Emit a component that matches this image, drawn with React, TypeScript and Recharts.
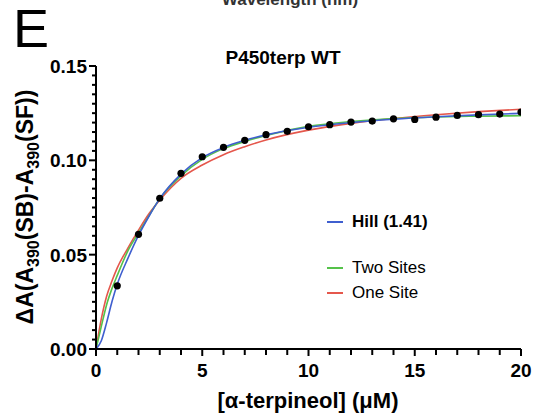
import React from 'react';
import { ComposedChart, Line, Scatter, XAxis, YAxis } from 'recharts';

// measured points
const concentrations = [1, 2, 3, 4, 5, 6, 7, 8, 9, 10, 11, 12, 13, 14, 15, 16, 17, 18, 19, 20];
const deltaA = [
  0.0335, 0.0608, 0.0799, 0.0931, 0.1019, 0.1069, 0.1106, 0.1136, 0.1154, 0.1178,
  0.1189, 0.1203, 0.1208, 0.1220, 0.1217, 0.1229, 0.1238, 0.1242, 0.1245, 0.1256,
];

// fitted curves
const fitX = [0, 0.25, 0.5, 0.75, 1, 1.5, 2, 2.5, 3, 4, 5, 6, 7, 8, 10, 12, 14, 16, 18, 20];
const hillFit = [
  0, 0.0044, 0.014, 0.025, 0.0343, 0.048, 0.0602, 0.0705, 0.0797, 0.0927, 0.1014, 0.1068,
  0.1106, 0.1135, 0.1175, 0.1200, 0.1218, 0.1231, 0.1241, 0.1249,
];
const twoSitesFit = [
  0, 0.012, 0.0235, 0.032, 0.039, 0.052, 0.0615, 0.0707, 0.0797, 0.0918, 0.1005, 0.1062,
  0.1100, 0.1132, 0.1180, 0.1206, 0.1222, 0.1230, 0.1234, 0.1236,
];
const oneSiteFit = [
  0, 0.016, 0.028, 0.036, 0.043, 0.0535, 0.0630, 0.0718, 0.0790, 0.0905, 0.0975, 0.1030,
  0.1072, 0.1108, 0.1160, 0.1196, 0.1222, 0.1242, 0.1258, 0.1271,
];

const xTicks = [0, 1, 2, 3, 4, 5, 6, 7, 8, 9, 10, 11, 12, 13, 14, 15, 16, 17, 18, 19, 20];
const yMajorTicks = [0, 0.05, 0.1, 0.15];
const yMinorStep = 0.005;

const BLUE = '#3f5fcf';
const GREEN = '#55c24a';
const RED = '#e5574c';
const FONT = '"Liberation Sans", Arial, Helvetica, sans-serif';

const toRows = (xs: number[], ys: number[]) => xs.map((x, i) => ({ x, y: ys[i] }));

const pointRows = toRows(concentrations, deltaA);
const hillRows = toRows(fitX, hillFit);
const twoRows = toRows(fitX, twoSitesFit);
const oneRows = toRows(fitX, oneSiteFit);

const yTicks = Array.from({ length: Math.round(0.15 / yMinorStep) + 1 }, (_, i) => +(i * yMinorStep).toFixed(3));

const XTick = (props: any) => {
  const { x, y, payload } = props;
  const major = payload.value % 5 === 0;
  return (
    <g>
      <line x1={x} x2={x} y1={y} y2={y + (major ? 7 : 6)} stroke="#000" strokeWidth={2} />
      {major && (
        <text x={x} y={y + 28} textAnchor="middle" fontFamily={FONT} fontWeight="bold" fontSize={19} fill="#000">
          {payload.value}
        </text>
      )}
    </g>
  );
};

const YTick = (props: any) => {
  const { x, y, payload } = props;
  const major = yMajorTicks.some(t => Math.abs(t - payload.value) < 1e-6);
  return (
    <g>
      <line x1={x - (major ? 7 : 4)} x2={x} y1={y} y2={y} stroke="#000" strokeWidth={2} />
      {major && (
        <text x={x - 9} y={y + 7} textAnchor="end" fontFamily={FONT} fontWeight="bold" fontSize={19} fill="#000">
          {payload.value.toFixed(2)}
        </text>
      )}
    </g>
  );
};

const Dot = (props: any) => {
  const { cx, cy } = props;
  return <circle cx={cx} cy={cy} r={3.6} fill="#000" />;
};

const App = () => {
  return (
    <div style={{ position: 'absolute', left: 0, top: 0, width: 534, height: 416, background: '#fff' }}>
      <ComposedChart width={534} height={416} margin={{ top: 66, right: 13, bottom: 27, left: 36 }}>
        <XAxis
          dataKey="x"
          type="number"
          domain={[0, 20]}
          ticks={xTicks}
          interval={0}
          tickSize={0}
          tickMargin={0}
          tickLine={false}
          tick={<XTick />}
          height={40}
          axisLine={{ stroke: '#000', strokeWidth: 2 }}
          allowDataOverflow
        />
        <YAxis
          dataKey="y"
          type="number"
          domain={[0, 0.15]}
          ticks={yTicks}
          interval={0}
          tickSize={0}
          tickMargin={0}
          tickLine={false}
          tick={<YTick />}
          width={60}
          axisLine={{ stroke: '#000', strokeWidth: 2 }}
          allowDataOverflow
        />
        <Line data={oneRows} dataKey="y" type="monotone" stroke={RED} strokeWidth={1.6} dot={false} isAnimationActive={false} />
        <Line data={twoRows} dataKey="y" type="monotone" stroke={GREEN} strokeWidth={1.6} dot={false} isAnimationActive={false} />
        <Line data={hillRows} dataKey="y" type="monotone" stroke={BLUE} strokeWidth={1.6} dot={false} isAnimationActive={false} />
        <Scatter data={pointRows} dataKey="y" shape={<Dot />} isAnimationActive={false} />
      </ComposedChart>
      <svg width={534} height={416} style={{ position: 'absolute', left: 0, top: 0, pointerEvents: 'none' }}>
        <text x={290} y={5} textAnchor="middle" fontFamily={FONT} fontWeight="bold" fontSize={17} fill="#333">
          Wavelength (nm)
        </text>
        <text x={13} y={47} fontFamily={FONT} fontSize={54} fill="#000">E</text>
        <text x={283} y={64} textAnchor="middle" fontFamily={FONT} fontWeight="bold" fontSize={19} fill="#000">
          P450terp WT
        </text>
        <text
          transform="translate(33,207) rotate(-90)"
          textAnchor="middle"
          fontFamily={FONT}
          fontWeight="bold"
          fontSize={23}
          fill="#000"
        >
          ΔA(A<tspan dy={6} fontSize={16}>390</tspan><tspan dy={-6}>(SB)-A</tspan><tspan dy={6} fontSize={16}>390</tspan><tspan dy={-6}>(SF))</tspan>
        </text>
        <text x={308} y={408} textAnchor="middle" fontFamily={FONT} fontWeight="bold" fontSize={22} fill="#000">
          [α-terpineol] (μM)
        </text>
        <line x1={327} x2={343} y1={222} y2={222} stroke={BLUE} strokeWidth={2} />
        <text x={352} y={227} fontFamily={FONT} fontWeight="bold" fontSize={17} fill="#000">Hill (1.41)</text>
        <line x1={327} x2={343} y1={268} y2={268} stroke={GREEN} strokeWidth={2} />
        <text x={352} y={273} fontFamily={FONT} fontSize={17} fill="#000">Two Sites</text>
        <line x1={327} x2={343} y1={293} y2={293} stroke={RED} strokeWidth={2} />
        <text x={352} y={298} fontFamily={FONT} fontSize={17} fill="#000">One Site</text>
      </svg>
    </div>
  );
};

export default App;
